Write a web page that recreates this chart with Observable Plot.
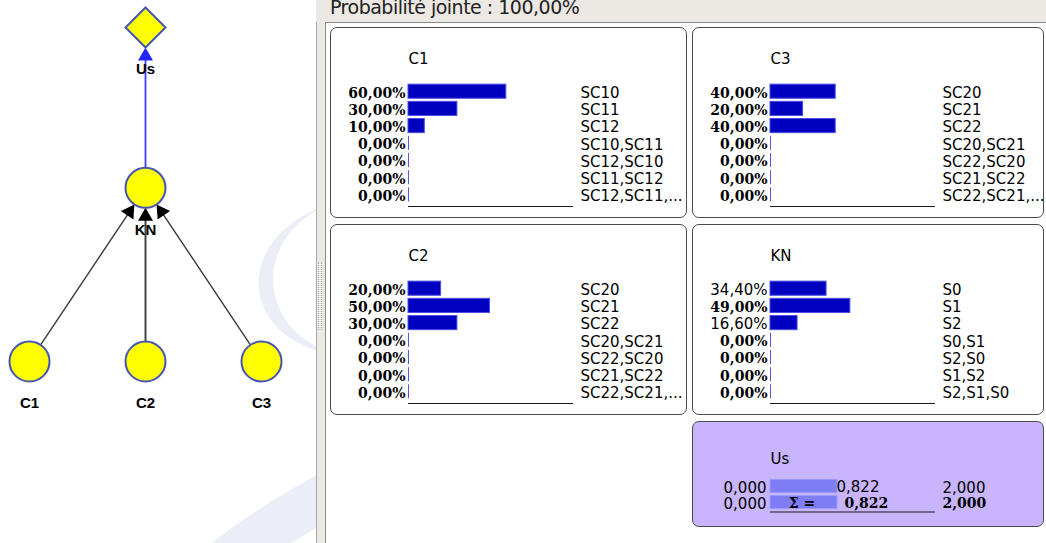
<!DOCTYPE html>
<html>
<head>
<meta charset="utf-8">
<script src="https://cdn.jsdelivr.net/npm/d3@7"></script>
<script src="https://cdn.jsdelivr.net/npm/@observablehq/plot@0.6"></script>
<style>
  body { margin: 0; background: #fff; }
  #app { position: relative; width: 1046px; height: 543px; overflow: hidden; background: #fff; font-family: "DejaVu Sans", sans-serif; }
  .abs { position: absolute; }
  #left { left: 0; top: 0; width: 316px; height: 543px; overflow: hidden; background: #fff; }
  .wm1 { left: 258px; top: 200px; width: 200px; height: 155px; border-radius: 50%; border-left: 15px solid #eceef7; box-sizing: border-box; transform: rotate(-8deg); }
  .wm2 { left: 150px; top: 497px; width: 270px; height: 46px; border-radius: 50%; background: #eceef7; transform: rotate(-32deg); }
  #sep { left: 316px; top: 0; width: 9px; height: 543px; background: #ece9e5; border-left: 1px solid #a9a9a9; }
  #grip { left: 318px; top: 262px; width: 2px; height: 68px; border-left: 1px dotted #b5b5b5; border-right: 1px dotted #b5b5b5; }
  #header { left: 316px; top: 0; width: 730px; height: 22px; background: #ece9e5; overflow: hidden; }
  #header span { position: absolute; left: 14px; top: -4px; font-size: 19px; line-height: 22px; letter-spacing: -0.5px; color: #222; white-space: nowrap; }
  #frame { left: 325px; top: 22px; width: 730px; height: 530px; background: #fff; border-left: 1px solid #8a8a8a; border-top: 1px solid #8a8a8a; }
  .panel { position: absolute; }
  .panel .box { position: absolute; left: 0; top: 0; right: 0; bottom: 0; border: 1.6px solid #4a4a4a; border-radius: 7px; box-sizing: border-box; }
  .panel svg { position: absolute; left: 0; top: 0; }
</style>
</head>
<body>
<div id="app"></div>
<script>
// ---------- data ----------
const headerText = "Probabilité jointe : 100,00%";

const c1Title = "C1";
const c1States = ["SC10", "SC11", "SC12", "SC10,SC11", "SC12,SC10", "SC11,SC12", "SC12,SC11,..."];
const c1Values = [0.60, 0.30, 0.10, 0, 0, 0, 0];

const c3Title = "C3";
const c3States = ["SC20", "SC21", "SC22", "SC20,SC21", "SC22,SC20", "SC21,SC22", "SC22,SC21,..."];
const c3Values = [0.40, 0.20, 0.40, 0, 0, 0, 0];

const c2Title = "C2";
const c2States = ["SC20", "SC21", "SC22", "SC20,SC21", "SC22,SC20", "SC21,SC22", "SC22,SC21,..."];
const c2Values = [0.20, 0.50, 0.30, 0, 0, 0, 0];

const knTitle = "KN";
const knStates = ["S0", "S1", "S2", "S0,S1", "S2,S0", "S1,S2", "S2,S1,S0"];
const knValues = [0.344, 0.49, 0.166, 0, 0, 0, 0];

const usTitle = "Us";
const usRows = ["value", "sum"];
const usMin = [0, 0];
const usValue = [0.822, 0.822];
const usMax = [2, 2];

// network: nodes (layout column / level) and edges
const nodeNames = ["Us", "KN", "C1", "C2", "C3"];
const nodeKind = ["utility", "chance", "chance", "chance", "chance"];
const nodeCol = [1, 1, 0, 1, 2];
const nodeLevel = [0, 0.96, 2, 2, 2];
const edgeFrom = ["C1", "C2", "C3", "KN"];
const edgeTo = ["KN", "KN", "KN", "Us"];

// ---------- helpers ----------
const loc = d3.formatLocale({decimal: ",", thousands: "\u00a0", grouping: [3], currency: ["", " €"]});
const pct = loc.format(".2%");
const num = loc.format(".3f");
const isRound = v => Math.abs(v * 100 - Math.round(v * 100)) < 1e-9;
const NB = "\u00a0";

const app = document.getElementById("app");
function div(cls, id, parent = app) {
  const d = document.createElement("div");
  if (cls) d.className = cls;
  if (id) d.id = id;
  parent.appendChild(d);
  return d;
}

// ---------- left: network graph ----------
const left = div("abs", "left");
div("abs wm1", null, left);
div("abs wm2", null, left);

const xr = [29, 261], yr = [27, 361];
const gx = d3.scaleLinear([0, 2], xr);
const gy = d3.scaleLinear([0, 2], yr);
const nodes = nodeNames.map((n, i) => ({name: n, kind: nodeKind[i], col: nodeCol[i], level: nodeLevel[i]}));
const byName = new Map(nodes.map(d => [d.name, d]));
const R = 20, HEAD = 13;
const headR = Math.sqrt(3 * Math.sqrt(3) * (HEAD / 3) ** 2 / Math.PI);
const edges = edgeFrom.map((f, i) => {
  const s = byName.get(f), t = byName.get(edgeTo[i]);
  const sx = gx(s.col), sy = gy(s.level), tx = gx(t.col), ty = gy(t.level);
  const L = Math.hypot(tx - sx, ty - sy), ux = (tx - sx) / L, uy = (ty - sy) / L;
  const tipX = tx - ux * R, tipY = ty - uy * R;
  return {
    x1: gx.invert(sx + ux * R), y1: gy.invert(sy + uy * R),
    x2: gx.invert(tipX - ux * HEAD * 0.7), y2: gy.invert(tipY - uy * HEAD * 0.7),
    hx: gx.invert(tipX - ux * HEAD * 2 / 3), hy: gy.invert(tipY - uy * HEAD * 2 / 3),
    rot: Math.atan2(ux, -uy) * 180 / Math.PI,
    util: t.kind === "utility",
    straight: Math.abs(ux) < 1e-6
  };
});

const graph = Plot.plot({
  width: 316, height: 543,
  margin: 0,
  x: {domain: [0, 2], range: xr, axis: null},
  y: {domain: [0, 2], range: yr, axis: null},
  style: {background: "transparent", overflow: "visible"},
  marks: [
    Plot.link(edges.filter(d => !d.util && !d.straight), {x1: "x1", y1: "y1", x2: "x2", y2: "y2", stroke: "#3a3a3a", strokeWidth: 1.4}),
    Plot.link(edges.filter(d => !d.util && d.straight), {x1: "x1", y1: "y1", x2: "x2", y2: "y2", stroke: "#444", strokeWidth: 2}),
    Plot.link(edges.filter(d => d.util), {x1: "x1", y1: "y1", x2: "x2", y2: "y2", stroke: "#3c3cff", strokeWidth: 1.8}),
    Plot.text(nodes, {x: "col", y: "level", text: "name", dy: 42, fontFamily: "Liberation Sans", fontWeight: "bold", fontSize: 15, fill: "#000"}),
    Plot.dot(edges.filter(d => !d.util), {x: "hx", y: "hy", symbol: "triangle", r: headR, rotate: "rot", fill: "#000", stroke: "none"}),
    Plot.dot(edges.filter(d => d.util), {x: "hx", y: "hy", symbol: "triangle", r: headR, rotate: "rot", fill: "#2424ff", stroke: "none"}),
    Plot.dot(nodes.filter(d => d.kind === "chance"), {x: "col", y: "level", r: 20, fill: "#ffff00", stroke: "#4556b2", strokeWidth: 2}),
    Plot.dot(nodes.filter(d => d.kind === "utility"), {x: "col", y: "level", symbol: "diamond2", r: 18, fill: "#ffff00", stroke: "#4556b2", strokeWidth: 2})
  ]
});
graph.style.position = "absolute";
graph.style.left = "0px";
graph.style.top = "0px";
left.appendChild(graph);

// ---------- right: chrome ----------
div("abs", "sep");
div("abs", "grip");
const header = div("abs", "header");
const hs = document.createElement("span");
hs.textContent = headerText;
header.appendChild(hs);
div("abs", "frame");

// ---------- probability panels ----------
function panelShell(left, top, width, height, bg) {
  const p = div("panel");
  p.style.left = left + "px"; p.style.top = top + "px";
  p.style.width = width + "px"; p.style.height = height + "px";
  const b = div("box", null, p);
  b.style.background = bg;
  return p;
}

function probPanel(left, top, title, states, values) {
  const width = left < 690 ? 357 : 352, height = 191;
  const p = panelShell(left, top, width, height, "#fff");
  const data = states.map((s, i) => ({i, state: s, value: values[i], label: pct(values[i]), exact: isRound(values[i])}));
  const H = 0.41, mTop = 55.6, mBottom = height - 176;
  const chart = Plot.plot({
    width, height,
    marginLeft: 78, marginRight: width - 241, marginTop: mTop, marginBottom: mBottom,
    x: {domain: [0, 1], axis: null},
    y: {domain: [-0.5, states.length - 0.5], reverse: true, axis: null},
    style: {background: "transparent", overflow: "visible"},
    marks: [
      Plot.ruleX(data, {x: 0, y1: d => d.i - H, y2: d => d.i + H, stroke: "#5656e0", strokeWidth: 1}),
      Plot.rect(data.filter(d => d.value > 0), {x1: 0, x2: "value", y1: d => d.i - H, y2: d => d.i + H, fill: "#0000c0", stroke: "#4c4ce8", strokeWidth: 1}),
      Plot.ruleY([states.length - 0.5], {x1: 0, x2: 1.012, dy: 3, stroke: "#1a1a1a", strokeWidth: 1.2}),
      Plot.text(data.filter(d => d.exact), {x: 0, y: "i", text: "label", textAnchor: "end", dx: -3, dy: 1.5, fontFamily: "DejaVu Serif", fontWeight: "bold", fontSize: 14, fill: "#000"}),
      Plot.text(data.filter(d => !d.exact), {x: 0, y: "i", text: "label", textAnchor: "end", dx: -3, dy: 1.5, fontFamily: "DejaVu Sans", fontSize: 15, fill: "#000"}),
      Plot.text(data, {x: 1, y: "i", text: "state", textAnchor: "start", dx: 9, dy: 1.5, fontFamily: "DejaVu Sans", fontSize: 15, fill: "#000"}),
      Plot.text([title], {frameAnchor: "top-left", text: d => d, textAnchor: "start", lineAnchor: "bottom", dy: 36 - mTop, fontFamily: "DejaVu Sans", fontSize: 15, fill: "#000"})
    ]
  });
  p.appendChild(chart);
}

probPanel(330, 27, c1Title, c1States, c1Values);
probPanel(692, 27, c3Title, c3States, c3Values);
probPanel(330, 224, c2Title, c2States, c2Values);
probPanel(692, 224, knTitle, knStates, knValues);

// ---------- utility panel ----------
(function usPanel() {
  const width = 352, height = 106;
  const p = panelShell(692, 421, width, height, "#c8b5fd");
  const data = usRows.map((r, i) => ({i, row: r, min: usMin[i], value: usValue[i], max: usMax[i]}));
  const H = 0.41, mTop = 57, mBottom = height - 89;
  const chart = Plot.plot({
    width, height,
    marginLeft: 78, marginRight: width - 241, marginTop: mTop, marginBottom: mBottom,
    x: {domain: [d3.min(usMin), d3.max(usMax)], axis: null},
    y: {domain: [-0.5, usRows.length - 0.5], reverse: true, axis: null},
    style: {background: "transparent", overflow: "visible"},
    marks: [
      Plot.rect(data, {x1: "min", x2: "value", y1: d => d.i - H, y2: d => d.i + H, fill: "#7d7df5", stroke: "#9c9cff", strokeWidth: 1}),
      Plot.ruleY([usRows.length - 0.5], {x1: d3.min(usMin), x2: d3.max(usMax) * 1.012, dy: 1.5, stroke: "#1a1a1a", strokeWidth: 1.2}),
      Plot.text(data, {x: "min", y: "i", text: d => num(d.min), textAnchor: "end", dx: -4, dy: 1.5, fontFamily: "DejaVu Sans", fontSize: 15, fill: "#000"}),
      Plot.text(data.filter(d => d.row === "value"), {x: "value", y: "i", text: d => num(d.value), textAnchor: "start", dx: -1, dy: 0.5, fontFamily: "DejaVu Sans", fontSize: 15, fill: "#000"}),
      Plot.text(data.filter(d => d.row === "sum"), {x: "value", y: "i", text: d => "Σ" + NB + "=" + NB.repeat(6) + num(d.value), textAnchor: "middle", dx: 1, dy: 1.5, fontFamily: "DejaVu Serif", fontWeight: "bold", fontSize: 14, fill: "#000"}),
      Plot.text(data.filter(d => d.row === "value"), {x: "max", y: "i", text: d => num(d.max), textAnchor: "start", dx: 9, dy: 1.5, fontFamily: "DejaVu Sans", fontSize: 15, fill: "#000"}),
      Plot.text(data.filter(d => d.row === "sum"), {x: "max", y: "i", text: d => num(d.max), textAnchor: "start", dx: 9, dy: 1.5, fontFamily: "DejaVu Serif", fontWeight: "bold", fontSize: 14, fill: "#000"}),
      Plot.text([usTitle], {frameAnchor: "top-left", text: d => d, textAnchor: "start", lineAnchor: "bottom", dy: 42 - mTop, fontFamily: "DejaVu Sans", fontSize: 15, fill: "#000"})
    ]
  });
  p.appendChild(chart);
})();
</script>
</body>
</html>
